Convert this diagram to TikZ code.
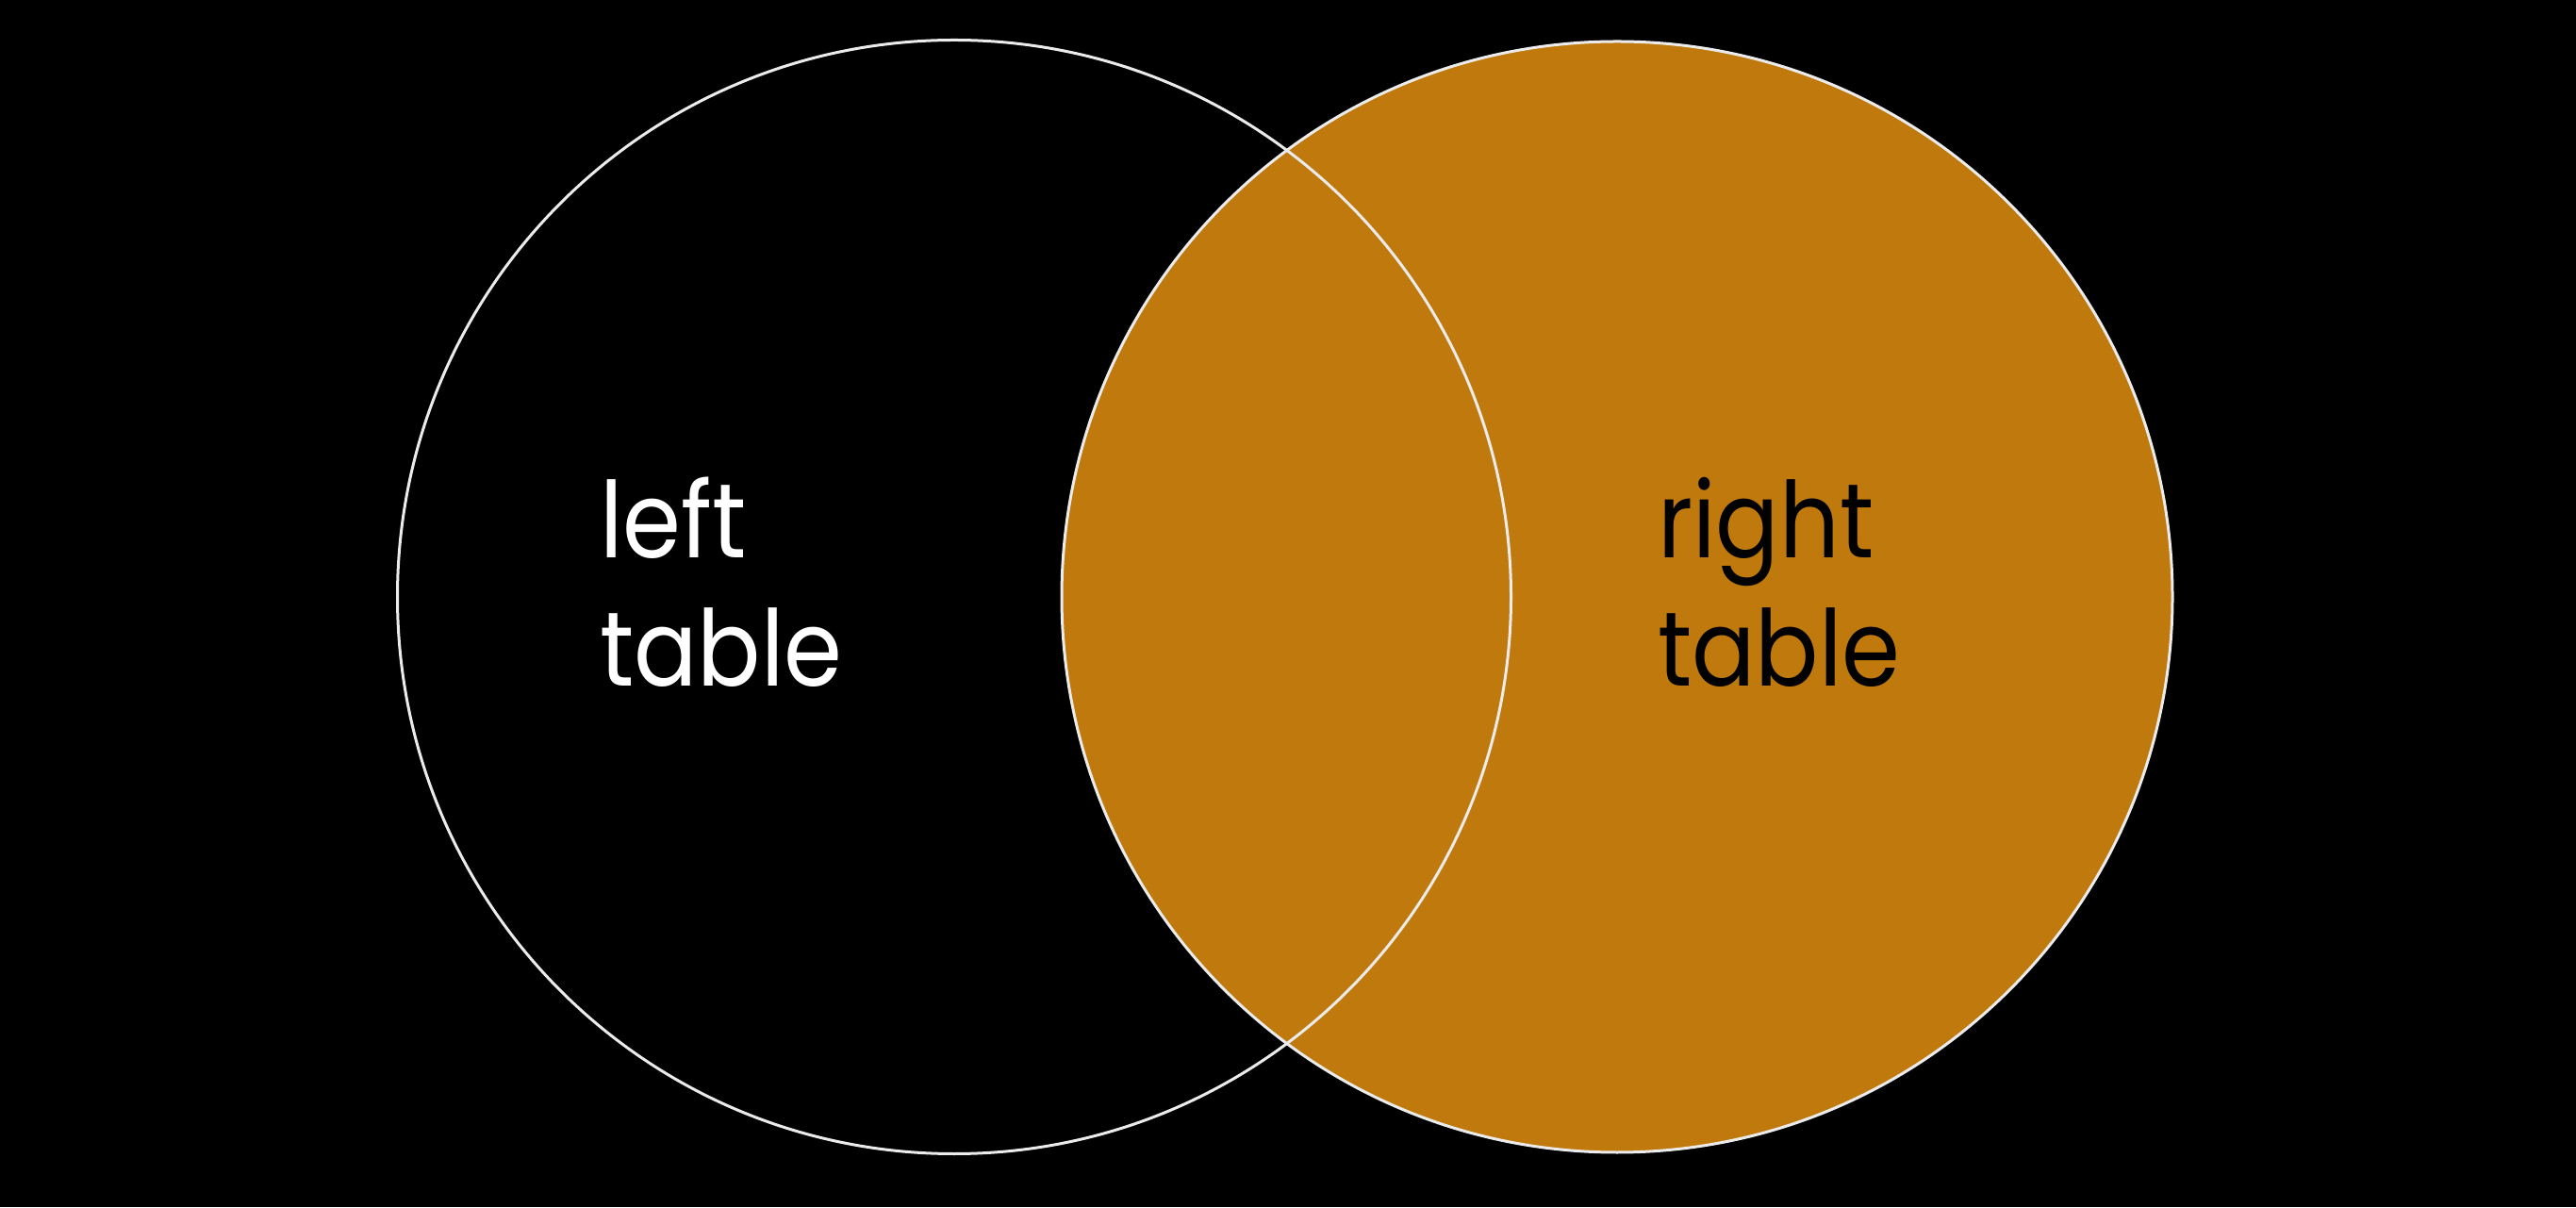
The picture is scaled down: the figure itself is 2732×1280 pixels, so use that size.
\documentclass[tikz,border=0pt]{standalone}
\usepackage{fontspec}
\setmainfont[FakeStretch=0.89]{Poppins}
\definecolor{fillorange}{RGB}{191,121,12}
\definecolor{edge}{RGB}{235,235,235}
\tikzset{
  setcircle/.style={draw=edge, line width=3pt},
  label/.style={align=left, inner sep=0pt, anchor=base west,
    font=\fontsize{112}{136}\selectfont}
}
\begin{document}
\begin{tikzpicture}[x=1pt,y=1pt]
\fill[black] (0,0) rectangle (2732,1280);
\useasboundingbox (0,0) rectangle (2732,1280);
\fill[fillorange] (1715,647) circle[radius=589];
\draw[setcircle] (1012,647) circle[radius=590.5];
\draw[setcircle] (1715,647) circle[radius=589];
\node[label, text=white] (lefttable) at (636,552) {left\\table};
\node[label, text=black] (righttable) at (1758,552) {right\\table};
\end{tikzpicture}
\end{document}
